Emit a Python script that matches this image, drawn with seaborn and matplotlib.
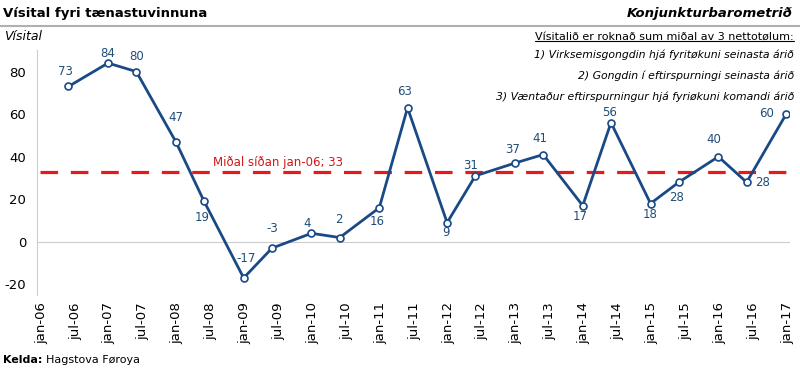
"""
plot.py
Recreate the Faroese service-sector index chart (Vísital fyri tænastuvinnuna).
"""

import pandas as pd
import matplotlib.pyplot as plt
import matplotlib.transforms as mtransforms
import seaborn as sns
from matplotlib.lines import Line2D

#
#  Data: survey dates and index values
#

dates = ['2006-06', '2007-01', '2007-06', '2008-01', '2008-06', '2009-01',
         '2009-06', '2010-01', '2010-06', '2011-01', '2011-06', '2012-01',
         '2012-06', '2013-01', '2013-06', '2014-01', '2014-06', '2015-01',
         '2015-06', '2016-01', '2016-06', '2017-01']
values = [73, 84, 80, 47, 19, -17, -3, 4, 2, 16, 63, 9,
          31, 37, 41, 17, 56, 18, 28, 40, 28, 60]
mean_value = 33
mean_text = 'Miðal síðan jan-06; 33'

tick_labels = ['jan-06', 'jul-06', 'jan-07', 'jul-07', 'jan-08', 'jul-08',
               'jan-09', 'jul-09', 'jan-10', 'jul-10', 'jan-11', 'jul-11',
               'jan-12', 'jul-12', 'jan-13', 'jul-13', 'jan-14', 'jul-14',
               'jan-15', 'jul-15', 'jan-16', 'jul-16', 'jan-17']
y_ticks = [-20, 0, 20, 40, 60, 80]

title = 'Vísital fyri tænastuvinnuna'
right_title = 'Konjunkturbarometrið'
note_head = 'Vísitalið er roknað sum miðal av 3 nettotølum:'
note_lines = ['1) Virksemisgongdin hjá fyritøkuni seinasta árið',
              '2) Gongdin í eftirspurningi seinasta árið',
              '3) Væntaður eftirspurningur hjá fyriøkuni komandi árið']

# label offsets in pixels (dx, dy) for each data label
label_offsets = [(-3, 15), (0, 10), (0, 15), (0, 24), (-2, -16), (2, 19),
                 (0, 20), (-4, 10), (-1, 18), (-2, -14), (-3, 16), (-1, -10),
                 (-5, 10), (-2, 14), (-3, 16), (-3, -11), (-1, 10), (0, -11),
                 (-2, -15), (-5, 17), (16, 0), (-20, 1)]

#
#  Convert the dates to a month axis (Excel style: each month is a slot,
#  points sit in the middle of their slot)
#

d = pd.to_datetime(dates)
df = pd.DataFrame({'pos': (d.year - 2006) * 12 + (d.month - 1) + 0.5,
                   'value': values})

month_num = {'jan': 0, 'jul': 6}
tick_pos = [(int(t[-2:]) - 6) * 12 + month_num[t[:3]] for t in tick_labels]

blue = '#1a4a85'
label_blue = '#1f4e79'
red = '#e41a1c'

sns.set_style('white')
plt.rcParams['font.family'] = ['DejaVu Sans']
plt.rcParams['text.color'] = 'black'
plt.rcParams['xtick.color'] = 'black'
plt.rcParams['ytick.color'] = 'black'

fig = plt.figure(figsize=(8, 3.69), dpi=100)
W, H = 800, 369
ax = fig.add_axes([37.4 / W, 1 - 295 / H, (789 - 37.4) / W, (295 - 50.3) / H])
ax.set_xlim(0, 133)
ax.set_ylim(-25, 90)

# mean line
ax.hlines(mean_value, 0.5, df['pos'].max(), color=red, lw=2.3,
          linestyles=(0, (5.5, 4)), zorder=2)
ax.annotate(mean_text, (42.6, mean_value), xytext=(0, 9),
            textcoords='offset pixels', ha='center', va='center',
            color='#d01818', fontsize=8.5)

sns.lineplot(data=df, x='pos', y='value', ax=ax, color=blue, lw=2,
             marker='o', markersize=5, markerfacecolor='white',
             markeredgecolor=blue, markeredgewidth=1.2, zorder=3)

for x, v, (dx, dy) in zip(df['pos'], df['value'], label_offsets):
    ax.annotate(str(v), (x, v), xytext=(dx, dy), textcoords='offset pixels',
                ha='center', va='center', color=label_blue, fontsize=8.5)

# axes styling
for s in ['top', 'right']:
    ax.spines[s].set_visible(False)
ax.spines['left'].set_color('#cccccc')
ax.spines['bottom'].set_color('#cccccc')
ax.spines['bottom'].set_position(('data', 0))

ax.set_xticks(tick_pos)
ax.set_xticklabels(tick_labels, rotation=90, fontsize=9.5)
ax.tick_params(axis='x', direction='inout', length=5, color='#cccccc',
               labelcolor='black', pad=41)
shift = mtransforms.ScaledTranslation(4 / 100, 0, fig.dpi_scale_trans)
for lbl in ax.get_xticklabels():
    lbl.set_transform(lbl.get_transform() + shift)
ax.set_yticks(y_ticks)
ax.set_yticklabels([str(t) for t in y_ticks], fontsize=9.5)
ax.tick_params(axis='y', length=0, pad=8, labelcolor='black')
ax.set_xlabel('')
ax.set_ylabel('')

# header and footer texts
fig.text(3 / W, 1 - 14 / H, title, fontsize=9.5, fontweight='bold',
         ha='left', va='center')
fig.add_artist(Line2D([0, 1], [1 - 26 / H, 1 - 26 / H], color='#b0b0b0', lw=1.5))
fig.text(4 / W, 1 - 37 / H, 'Vísital', fontsize=9, style='italic',
         ha='left', va='center')
fig.text(792 / W, 1 - 14 / H, right_title, fontsize=9.5, fontweight='bold',
         style='italic', ha='right', va='center')
head = fig.text(794 / W, 1 - 37 / H, note_head, fontsize=8, ha='right',
                va='center')
for i, line in enumerate(note_lines):
    fig.text(794 / W, 1 - (55 + 21 * i) / H, line, fontsize=7.8,
             style='italic', ha='right', va='center')

kelda = fig.text(3 / W, 1 - 360 / H, 'Kelda:', fontsize=8,
                 fontweight='bold', ha='left', va='center')

fig.canvas.draw()
r = fig.canvas.get_renderer()
bb = head.get_window_extent(r)
fig.add_artist(Line2D([bb.x0 / W, bb.x1 / W], [(bb.y0 + 1) / H, (bb.y0 + 1) / H],
                      color='black', lw=0.8))
kb = kelda.get_window_extent(r)
fig.text((kb.x1 + 4) / W, 1 - 360 / H, 'Hagstova Føroya', fontsize=8,
         ha='left', va='center')

fig.savefig('out.png', dpi=100, facecolor='white')
